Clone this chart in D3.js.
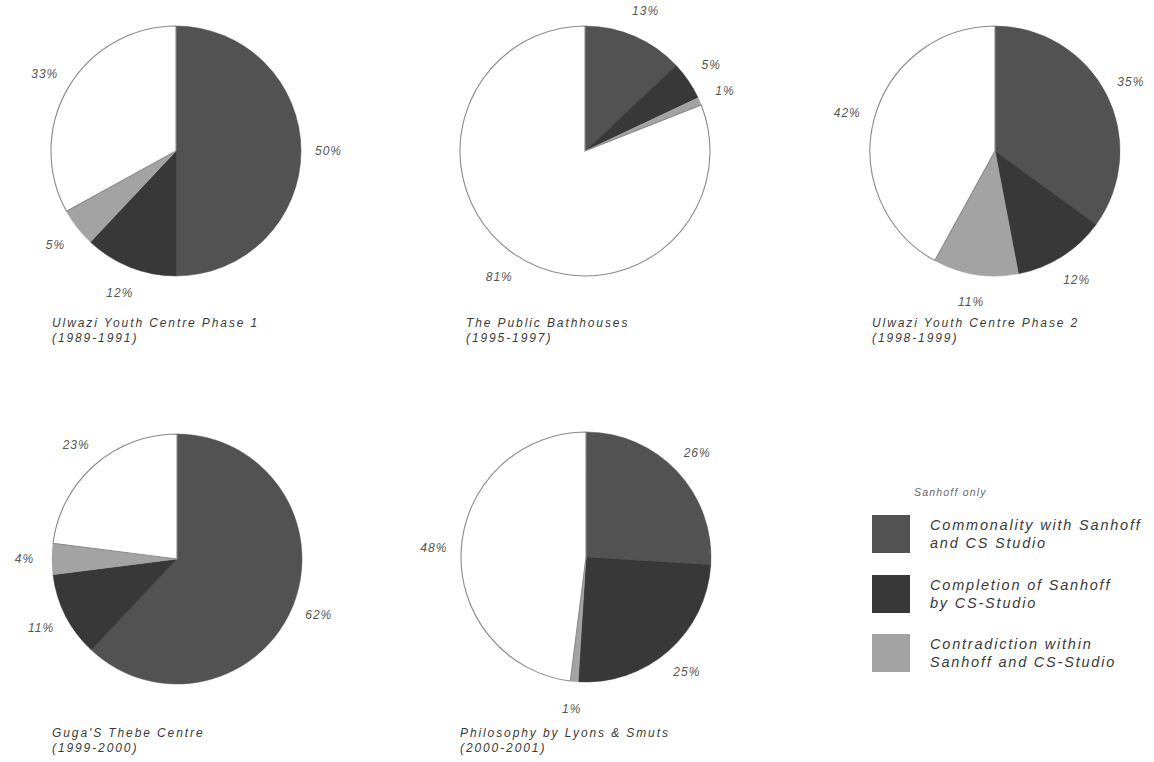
<!DOCTYPE html>
<html>
<head>
<meta charset="utf-8">
<script src="https://cdn.jsdelivr.net/npm/d3@7"></script>
<style>
  html, body { margin: 0; padding: 0; background: #fff; }
  svg { display: block; }
  text { font-family: "Liberation Sans", Arial, sans-serif; font-style: italic; }
</style>
</head>
<body>
<svg id="chart" width="1154" height="762"></svg>
<script>
// ---- data ----
const projects = ["Ulwazi Youth Centre Phase 1", "The Public Bathhouses", "Ulwazi Youth Centre Phase 2", "Guga'S Thebe Centre", "Philosophy by Lyons & Smuts"];
const periods = ["(1989-1991)", "(1995-1997)", "(1998-1999)", "(1999-2000)", "(2000-2001)"];
const categories = ["Commonality with Sanhoff and CS Studio", "Completion of Sanhoff by CS-Studio", "Contradiction within Sanhoff and CS-Studio", "Sanhoff only"];
const commonality   = [50, 13, 35, 62, 26];
const completion    = [12,  5, 12, 11, 25];
const contradiction = [ 5,  1, 11,  4,  1];
const sanhoffOnly   = [33, 81, 42, 23, 48];
const legendTitle = "Sanhoff only";
const legendLines = [["Commonality with Sanhoff", "and CS Studio"], ["Completion of Sanhoff", "by CS-Studio"], ["Contradiction within", "Sanhoff and CS-Studio"]];

// ---- layout ----
const colors = d3.scaleOrdinal().domain(categories).range(["#525252", "#383838", "#a3a3a3", "#ffffff"]);
const centers = [[176, 151], [585, 151], [995, 151], [177, 559], [586, 557]];
const titlePos = [[52, 327], [466, 327], [872, 327], [52, 737], [460, 737]];
const r = 125;

const svg = d3.select("#chart");
const pie = d3.pie().sort(null).value(d => d.value);
const arc = d3.arc().innerRadius(0).outerRadius(r);
const labelArc = d3.arc().innerRadius(r * 1.22).outerRadius(r * 1.22);

projects.forEach((p, i) => {
  const vals = [commonality[i], completion[i], contradiction[i], sanhoffOnly[i]];
  const data = categories.map((c, k) => ({ cat: c, value: vals[k] }));
  const g = svg.append("g").attr("transform", `translate(${centers[i][0]},${centers[i][1]})`);
  const arcs = pie(data);
  g.selectAll("path").data(arcs).join("path")
    .attr("d", arc)
    .attr("fill", d => colors(d.data.cat))
    .attr("stroke", d => d.data.cat === "Sanhoff only" ? "#8a8a8a" : colors(d.data.cat))
    .attr("stroke-width", d => d.data.cat === "Sanhoff only" ? 1.1 : 0.5);
  g.selectAll("text.lbl").data(arcs).join("text")
    .attr("class", "lbl")
    .attr("transform", d => `translate(${labelArc.centroid(d)})`)
    .attr("text-anchor", "middle")
    .attr("dy", "0.35em")
    .attr("font-size", 12)
    .attr("letter-spacing", 1)
    .attr("fill", "#555")
    .text(d => d.data.value + "%");

  const t = svg.append("text")
    .attr("x", titlePos[i][0]).attr("y", titlePos[i][1])
    .attr("font-size", 12).attr("letter-spacing", 1.9).attr("fill", "#3a3a3a");
  t.append("tspan").attr("x", titlePos[i][0]).text(p);
  t.append("tspan").attr("x", titlePos[i][0]).attr("dy", 15).text(periods[i]);
});

// ---- legend ----
const lg = svg.append("g");
lg.append("text").attr("x", 914).attr("y", 496).attr("font-size", 10.5).attr("letter-spacing", 1.2)
  .attr("fill", "#666").text(legendTitle);
const swY = [515, 575, 634];
legendLines.forEach((lines, k) => {
  lg.append("rect").attr("x", 872).attr("y", swY[k]).attr("width", 38).attr("height", 38)
    .attr("fill", colors(categories[k]));
  const t = lg.append("text").attr("x", 930).attr("y", swY[k] + 15)
    .attr("font-size", 14.5).attr("letter-spacing", 1.8).attr("fill", "#3a3a3a");
  lines.forEach((ln, j) => t.append("tspan").attr("x", 930).attr("dy", j ? 18 : 0).text(ln));
});
</script>
</body>
</html>
